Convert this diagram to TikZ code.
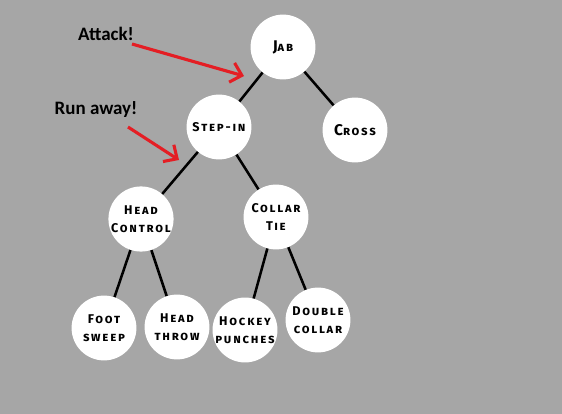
\documentclass[tikz,border=0pt]{standalone}
\usepackage{fontspec}
\newfontfamily\labelfont{Carlito}
\newfontfamily\movefont[LetterSpace=14]{Fira Sans}
\usepackage{tikz}
\usetikzlibrary{arrows.meta}
\definecolor{bggray}{RGB}{166,166,166}
\definecolor{arrowred}{RGB}{228,30,36}

\begin{document}
\begin{tikzpicture}[x=0.025cm, y=-0.025cm,
    move/.style={circle, fill=white, minimum size=1.62cm, inner sep=0pt, align=center,
        font=\movefont\bfseries\scshape\fontsize{9}{12.5}\selectfont},
    link/.style={line width=1.8pt, black},
    hint/.style={line width=2.2pt, arrowred, -{Straight Barb[length=2.6mm, width=5mm]}},
    say/.style={font=\labelfont\bfseries\fontsize{13.5}{15}\selectfont}]
        % Background
        \fill[bggray] (0,0) rectangle (562,414);
        \useasboundingbox (0,0) rectangle (562,414);

        % Draw moves
        \node[move] (jab) at (283,47) {{\fontsize{11}{12}\selectfont J}ab};
        \node[move] (step) at (219,127) {Step-in};
        \node[move] (cross) at (355,130) {{\fontsize{11}{12}\selectfont C}ross};
        \node[move] (headctl) at (141,219) {Head\\Control};
        \node[move] (collar) at (276,217) {Collar\\Tie};
        \node[move] (foot) at (104,328) {Foot\\sweep};
        \node[move] (throw) at (177,327) {Head\\throw};
        \node[move] (hockey) at (245,330) {Hockey\\punches};
        \node[move] (double) at (318,320) {Double\\collar};

        % Draw links
        \draw[link] (jab) -- (step);
        \draw[link] (jab) -- (cross);
        \draw[link] (step) -- (headctl);
        \draw[link] (step) -- (collar);
        \draw[link] (headctl) -- (foot);
        \draw[link] (headctl) -- (throw);
        \draw[link] (collar) -- (hockey);
        \draw[link] (collar) -- (double);

        % Draw hints
        \node[say] (attack) at (106,34) {Attack!};
        \node[say] (runaway) at (96,110) {Run away!};
        \coordinate (attacktip) at (244,76);
        \coordinate (runtip) at (179,160);
        \draw[hint] (132,44) -- (attacktip);
        \draw[hint] (128,127) -- (runtip);
    \end{tikzpicture}
\end{document}
